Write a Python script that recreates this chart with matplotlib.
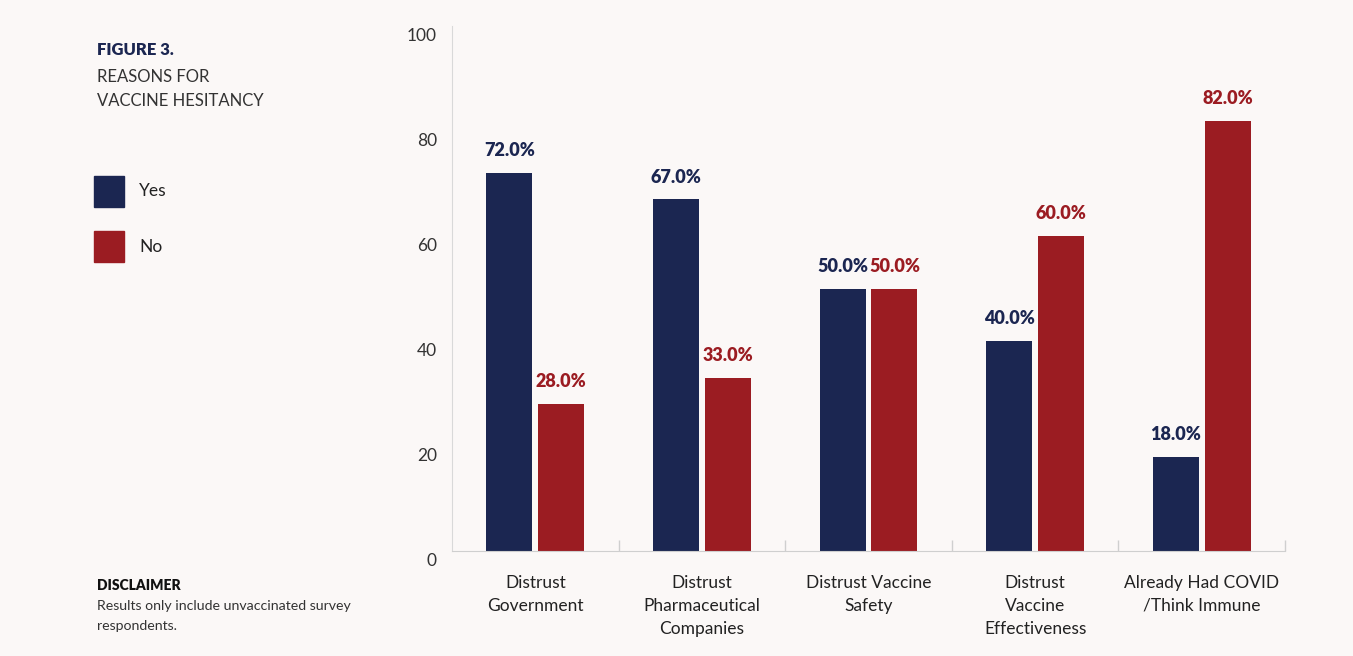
import matplotlib
matplotlib.use("Agg")
import matplotlib.pyplot as plt
import matplotlib.transforms as mtransforms
import numpy as np

categories = ["Distrust\nGovernment", "Distrust\nPharmaceutical\nCompanies",
              "Distrust Vaccine\nSafety", "Distrust\nVaccine\nEffectiveness",
              "Already Had COVID\n/Think Immune"]
yes_vals = [72.0, 67.0, 50.0, 40.0, 18.0]
no_vals = [28.0, 33.0, 50.0, 60.0, 82.0]
yticks = [0, 20, 40, 60, 80, 100]

NAVY = "#1b2651"
RED = "#9b1c22"
BG = "#fbf8f7"
FONT = "Lato"

plt.rcParams["font.family"] = [FONT, "DejaVu Sans"]

fig = plt.figure(figsize=(13.53, 6.56), dpi=100, facecolor=BG)
ax = fig.add_axes([452/1353, 1-551/656, (1285-452)/1353, (551-26)/656])
ax.set_facecolor(BG)

x = np.arange(len(categories))
w = 0.276
gap = 0.036
b1 = ax.bar(x - (w+gap)/2, yes_vals, w, color=NAVY)
b2 = ax.bar(x + (w+gap)/2, no_vals, w, color=RED)

for bars, vals, col in ((b1, yes_vals, NAVY), (b2, no_vals, RED)):
    for r, v in zip(bars, vals):
        ax.annotate(f"{v:.1f}%", (r.get_x() + r.get_width()/2, v),
                    xytext=(0, 16), textcoords="offset points",
                    ha="center", va="center", fontsize=13, fontweight="heavy", color=col)

ax.set_xlim(-0.5, len(categories) - 0.5)
ax.set_ylim(0, 100)
ax.set_yticks(yticks)
ax.set_yticklabels([])
ax.tick_params(axis="y", length=0)
# y tick labels, drawn slightly below their gridline positions as in the reference
ytrans = ax.get_yaxis_transform() + mtransforms.ScaledTranslation(-15/100, -10/100, fig.dpi_scale_trans)
for t in yticks:
    ax.text(0, t, str(t), transform=ytrans, ha="right", va="center",
            fontsize=12.5, color="#333333")

ax.set_xticks(x)
ax.set_xticklabels(categories, fontsize=12.5, color="#222222", linespacing=1.55)
ax.tick_params(axis="x", which="major", length=0, pad=17)
ax.set_xticks(np.arange(len(categories)) + 0.5, minor=True)
ax.tick_params(axis="x", which="minor", length=8, direction="in", color="#cfcfcf", width=1)

for s in ("top", "right"):
    ax.spines[s].set_visible(False)
ax.spines["left"].set_color("#d9d9d9")
ax.spines["bottom"].set_color("#cfcfcf")

# Left panel text
fig.text(97/1353, 1-50/656, "FIGURE 3.", fontsize=12, fontweight="heavy", color=NAVY, va="center")
fig.text(97/1353, 1-77/656, "REASONS FOR", fontsize=12, color="#333333", va="center")
fig.text(97/1353, 1-101/656, "VACCINE HESITANCY", fontsize=12, color="#333333", va="center")

# Legend
lax = fig.add_axes([0, 0, 1, 1], facecolor="none")
lax.set_xlim(0, 1353)
lax.set_ylim(656, 0)
lax.axis("off")
for (label, col, yc) in (("Yes", NAVY, 191.5), ("No", RED, 246.5)):
    lax.add_patch(plt.Rectangle((94, yc - 15.5), 30, 31, color=col))
    lax.text(139, yc, label, fontsize=12.5, color="#222222", va="center")

fig.text(97/1353, 1-586/656, "DISCLAIMER", fontsize=10, fontweight="heavy", color="#111111", va="center")
fig.text(97/1353, 1-606/656, "Results only include unvaccinated survey", fontsize=10.2, color="#333333", va="center")
fig.text(97/1353, 1-626/656, "respondents.", fontsize=10.2, color="#333333", va="center")

fig.savefig("out.png", dpi=100, facecolor=BG)
